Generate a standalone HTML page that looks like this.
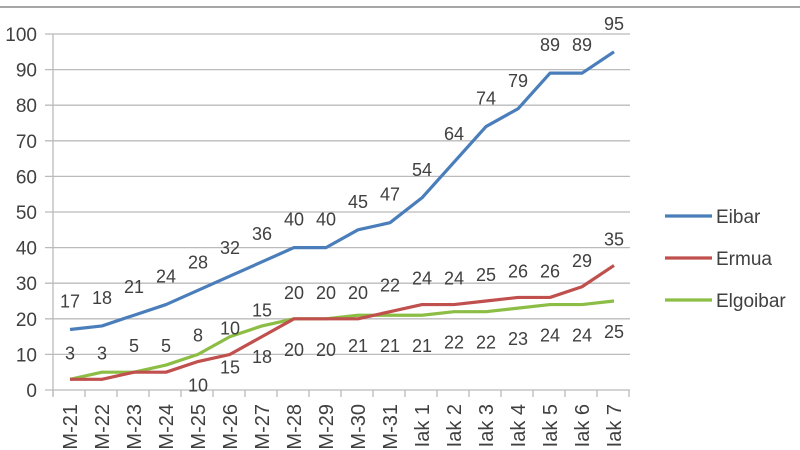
<!DOCTYPE html>
<html><head><style>body{margin:0;background:#fff}svg{display:block}text{font-family:"Liberation Sans",sans-serif;fill:#404040}</style></head>
<body>
<svg id="s" width="800" height="450" xmlns="http://www.w3.org/2000/svg">
<line x1="0" y1="7" x2="800" y2="7" stroke="#888" stroke-width="1.5"/>
<g id="g"></g>
</svg>
<script>
const g=document.getElementById('g');let h='';
const y0=390,sc=3.56,X=i=>70+i*32,Y=v=>y0-v*sc;
for(let k=0;k<=10;k++){const y=Y(k*10);h+=`<line x1="45" y1="${y}" x2="630" y2="${y}" stroke="#bbb" stroke-width="1.3"/>`;
h+=`<text x="37" y="${y+7}" font-size="19" text-anchor="end">${k*10}</text>`;}
h+=`<line x1="53" y1="34" x2="53" y2="396" stroke="#bbb" stroke-width="1.3"/>`;
for(let i=0;i<=18;i++){const x=53+i*32;h+=`<line x1="${x}" y1="390" x2="${x}" y2="397" stroke="#bbb" stroke-width="1.3"/>`;}
const cats=[];for(let i=21;i<=31;i++)cats.push('M-'+i);for(let i=1;i<=7;i++)cats.push('Iak '+i);
cats.forEach((c,i)=>{h+=`<text transform="translate(${X(i)+7},404) rotate(-90)" font-size="20" text-anchor="end">${c}</text>`;});
const E=[17,18,21,24,28,32,36,40,40,45,47,54,64,74,79,89,89,95],
R=[3,3,5,5,8,10,15,20,20,20,22,24,24,25,26,26,29,35],
G=[3,5,5,7,10,15,18,20,20,21,21,21,22,22,23,24,24,25];
const line=(d,c)=>`<polyline fill="none" stroke="${c}" stroke-width="3.2" stroke-linejoin="round" points="${d.map((v,i)=>X(i)+','+Y(v)).join(' ')}"/>`;
h+=line(G,'#8cbd45')+line(R,'#c0504d')+line(E,'#4a7ebb');
E.forEach((v,i)=>h+=`<text x="${X(i)}" y="${Y(v)-22}" font-size="18" text-anchor="middle">${v}</text>`);
R.forEach((v,i)=>h+=`<text x="${X(i)}" y="${Y(v)-20}" font-size="18" text-anchor="middle">${v}</text>`);
G.forEach((v,i)=>{if(i<4)return;h+=`<text x="${X(i)}" y="${Y(v)+37}" font-size="18" text-anchor="middle">${v}</text>`;});
[['Eibar','#4a7ebb',216],['Ermua','#c0504d',258],['Elgoibar','#8cbd45',300]].forEach(([n,c,y])=>{
h+=`<line x1="665" y1="${y}" x2="712" y2="${y}" stroke="${c}" stroke-width="3.2"/><text x="716" y="${y+7}" font-size="19">${n}</text>`;});
g.innerHTML=h;
</script>
</body></html>
